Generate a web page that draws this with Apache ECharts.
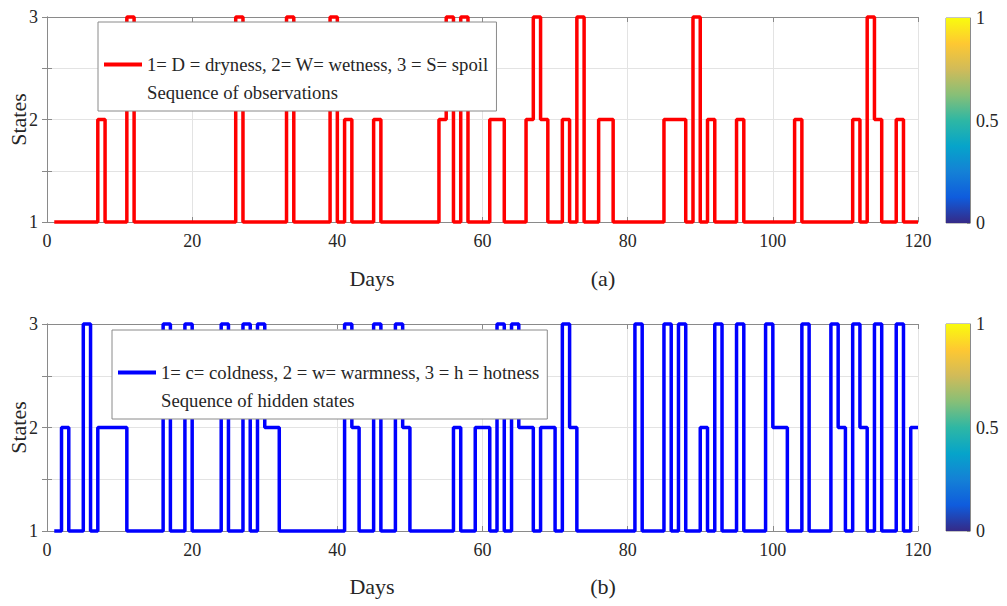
<!DOCTYPE html>
<html>
<head>
<meta charset="utf-8">
<script src="https://cdn.jsdelivr.net/npm/echarts@6/dist/echarts.min.js"></script>
<style>html,body{margin:0;padding:0;background:#fff;}#c{width:1007px;height:606px;}</style>
</head>
<body>
<div id="c"></div>
<script>
// ---- data ----
const days = Array.from({length: 120}, (_, i) => i + 1);
const observations = [
  1,1,1,1,1,1,2,1,1,1,
  3,1,1,1,1,1,1,1,1,1,
  1,1,1,1,1,3,1,1,1,1,
  1,1,3,1,1,1,1,1,3,1,
  2,1,1,1,2,1,1,1,1,1,
  1,1,1,2,3,1,3,1,1,1,
  2,2,1,1,1,2,3,2,1,1,
  2,1,3,1,1,2,2,1,1,1,
  1,1,1,1,2,2,2,1,3,1,
  2,1,1,1,2,1,1,1,1,1,
  1,1,2,1,1,1,1,1,1,1,
  2,1,3,2,1,1,2,1,1,1
];
const hiddenStates = [
  1,2,1,1,3,1,2,2,2,2,
  1,1,1,1,1,3,1,1,3,1,
  1,1,1,3,1,1,3,1,3,2,
  2,1,1,1,1,1,1,1,1,1,
  3,2,1,1,3,1,1,3,2,1,
  1,1,1,1,1,2,1,1,2,2,
  1,3,1,3,2,2,1,2,2,1,
  3,2,1,1,1,1,1,1,1,1,
  3,1,1,1,3,1,3,1,1,2,
  1,3,1,1,3,1,1,1,3,2,
  2,1,1,3,1,1,1,3,2,1,
  3,2,1,3,1,1,3,1,2,2
];
const xTicks = [0, 20, 40, 60, 80, 100, 120];
const yTickLabels = ['1', '2', '3'];
const cbarTicks = ['0', '0.5', '1'];
const obsName = '1= D = dryness, 2= W= wetness, 3 = S= spoil';
const obsName2 = 'Sequence of observations';
const hidName = '1= c= coldness, 2 = w= warmness, 3 = h = hotness';
const hidName2 = 'Sequence of hidden states';
const parula = ['#352a87','#0f5cdd','#1481d6','#06a4ca','#2eb7a4','#87bf77','#d1bb59','#fec832','#f9fb0e'];

// ---- styles ----
const FONT = 'Liberation Serif';
const AX = '#8a8a8a';
const TXT = '#262626';

function pairs(vals) { return days.map((d, i) => [d, vals[i]]); }

function xAxes(gi) {
  return [
    { gridIndex: gi, type: 'value', min: xTicks[0], max: xTicks[xTicks.length-1], interval: 20,
      axisLine: {show: true, lineStyle: {color: AX, width: 1}},
      axisTick: {show: true, inside: true, length: 5, lineStyle: {color: AX}},
      axisLabel: {color: TXT, fontFamily: FONT, fontSize: 18, margin: 10},
      splitLine: {show: true, lineStyle: {color: '#e3e3e3', width: 1}} },
    { gridIndex: gi, type: 'value', position: 'top', min: xTicks[0], max: xTicks[xTicks.length-1], interval: 20,
      axisLine: {show: true, lineStyle: {color: AX, width: 1}},
      axisTick: {show: true, inside: true, length: 5, lineStyle: {color: AX}},
      axisLabel: {show: false}, splitLine: {show: false} }
  ];
}
function yAxes(gi) {
  return [
    { gridIndex: gi, type: 'value', min: 1, max: 3, interval: 0.5,
      name: 'States', nameLocation: 'middle', nameGap: 18, nameRotate: 90, nameMoveOverlap: false,
      nameTextStyle: {fontFamily: FONT, fontSize: 22, color: TXT},
      axisLine: {show: true, lineStyle: {color: AX, width: 1}},
      axisTick: {show: true, inside: true, length: 5, lineStyle: {color: AX}},
      axisLabel: {color: TXT, fontFamily: FONT, fontSize: 18, margin: 9,
        formatter: v => (Number.isInteger(v) ? yTickLabels[v - 1] : '')},
      splitLine: {show: true, lineStyle: {color: '#e3e3e3', width: 1}} },
    { gridIndex: gi, type: 'value', position: 'right', min: 1, max: 3, interval: 0.5,
      axisLine: {show: true, lineStyle: {color: AX, width: 1}},
      axisTick: {show: true, inside: true, length: 5, lineStyle: {color: AX}},
      axisLabel: {show: false}, splitLine: {show: false} }
  ];
}
function cbarAxes(gi) {
  return {
    x: { gridIndex: gi, type: 'category', data: ['c'], show: false },
    y: { gridIndex: gi, type: 'value', position: 'right', min: 0, max: 1, interval: 0.5,
      axisLine: {show: true, lineStyle: {color: AX}},
      axisTick: {show: true, inside: true, length: 3, lineStyle: {color: AX}},
      axisLabel: {color: TXT, fontFamily: FONT, fontSize: 18, margin: 6,
        formatter: v => cbarTicks[Math.round(v * 2)]},
      splitLine: {show: false} }
  };
}
const cb0 = cbarAxes(2), cb1 = cbarAxes(3);
const grad = new echarts.graphic.LinearGradient(0, 1, 0, 0,
  parula.map((c, i) => ({offset: i / (parula.length - 1), color: c})));

const legendBase = {
  orient: 'vertical', itemWidth: 38, itemHeight: 4, itemGap: 9, icon: 'rect',
  backgroundColor: '#fff', borderColor: '#8a8a8a', borderWidth: 1, borderRadius: 0,
  textStyle: {fontFamily: FONT, fontSize: 18.7, color: TXT}, selectedMode: false
};
const gridBase = {outerBoundsMode: 'none', containLabel: false};

const option = {
  animation: false,
  backgroundColor: '#fff',
  grid: [
    Object.assign({left: 47, top: 17, width: 871, height: 205}, gridBase),
    Object.assign({left: 47, top: 324, width: 871, height: 207}, gridBase),
    Object.assign({left: 946, top: 18, width: 24, height: 205, show: true, borderColor: AX, borderWidth: 1, backgroundColor: 'transparent'}, gridBase),
    Object.assign({left: 946, top: 324, width: 24, height: 207, show: true, borderColor: AX, borderWidth: 1, backgroundColor: 'transparent'}, gridBase)
  ],
  xAxis: [...xAxes(0), ...xAxes(1), cb0.x, cb1.x],
  yAxis: [...yAxes(0), ...yAxes(1), cb0.y, cb1.y],
  legend: [
    Object.assign({}, legendBase, {left: 98, top: 22, padding: [33, 8, 9, 6],
      data: [{name: obsName}, {name: obsName2}]}),
    Object.assign({}, legendBase, {left: 112, top: 330, padding: [33, 8, 9, 6],
      data: [{name: hidName}, {name: hidName2}]})
  ],
  series: [
    {name: obsName, type: 'line', xAxisIndex: 0, yAxisIndex: 0, step: 'end', symbol: 'none', clip: false,
      data: pairs(observations), lineStyle: {color: '#ff0000', width: 3.5}, itemStyle: {color: '#ff0000'}},
    {name: obsName2, type: 'line', xAxisIndex: 0, yAxisIndex: 0, symbol: 'none', data: [],
      lineStyle: {opacity: 0}, itemStyle: {opacity: 0, color: 'rgba(0,0,0,0)'}},
    {name: hidName, type: 'line', xAxisIndex: 2, yAxisIndex: 2, step: 'end', symbol: 'none', clip: false,
      data: pairs(hiddenStates), lineStyle: {color: '#0000ff', width: 3.5}, itemStyle: {color: '#0000ff'}},
    {name: hidName2, type: 'line', xAxisIndex: 2, yAxisIndex: 2, symbol: 'none', data: [],
      lineStyle: {opacity: 0}, itemStyle: {opacity: 0, color: 'rgba(0,0,0,0)'}},
    {type: 'bar', xAxisIndex: 4, yAxisIndex: 4, data: [1], barWidth: '100%', itemStyle: {color: grad}, silent: true},
    {type: 'bar', xAxisIndex: 5, yAxisIndex: 5, data: [1], barWidth: '100%', itemStyle: {color: grad}, silent: true}
  ],
  graphic: [
    {type: 'text', x: 372, y: 278, style: {text: 'Days', align: 'center', verticalAlign: 'middle', font: '22px "Liberation Serif"', fill: TXT}},
    {type: 'text', x: 603, y: 278, style: {text: '(a)', align: 'center', verticalAlign: 'middle', font: '22px "Liberation Serif"', fill: TXT}},
    {type: 'text', x: 372, y: 586, style: {text: 'Days', align: 'center', verticalAlign: 'middle', font: '22px "Liberation Serif"', fill: TXT}},
    {type: 'text', x: 603, y: 586, style: {text: '(b)', align: 'center', verticalAlign: 'middle', font: '22px "Liberation Serif"', fill: TXT}}
  ]
};
const chart = echarts.init(document.getElementById('c'), null, {renderer: 'svg'});
chart.setOption(option);
</script>
</body>
</html>
